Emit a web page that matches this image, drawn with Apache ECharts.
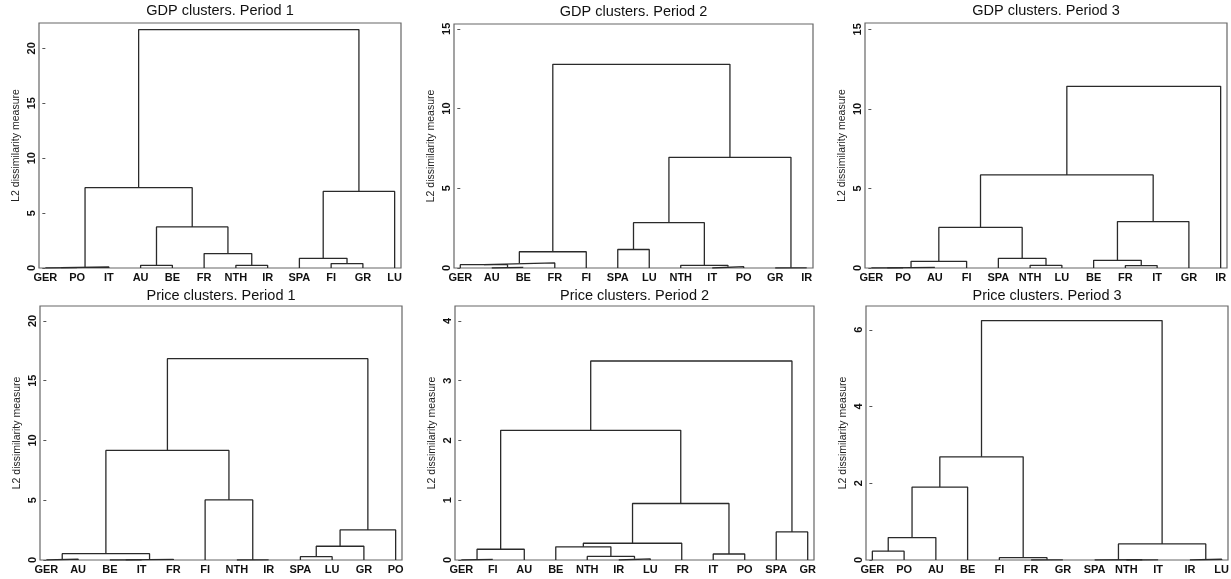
<!DOCTYPE html>
<html>
<head>
<meta charset="utf-8">
<title>GDP and price clusters</title>
<script src="https://cdn.jsdelivr.net/npm/echarts@6.0.0/dist/echarts.min.js"></script>
<style>
  html, body { margin: 0; padding: 0; background: #fff; }
  #chart { width: 1231px; height: 579px; }
</style>
</head>
<body>
<div id="chart"></div>
<script>
// leaves left to right; merges are [a, b, height], ids >= 12 point to earlier merges
const gdp1Leaves = ['GER', 'PO', 'IT', 'AU', 'BE', 'FR', 'NTH', 'IR', 'SPA', 'FI', 'GR', 'LU'];
const gdp1Merges = [
  [0, 1, 0.03], [12, 2, 0.09], [3, 4, 0.24], [6, 7, 0.24], [5, 15, 1.31], [14, 16, 3.74],
  [13, 17, 7.31], [9, 10, 0.40], [8, 19, 0.88], [20, 11, 6.97], [18, 21, 21.7]
];
const gdp1Ticks = [0, 5, 10, 15, 20];

const gdp2Leaves = ['GER', 'AU', 'BE', 'FR', 'FI', 'SPA', 'LU', 'NTH', 'IT', 'PO', 'GR', 'IR'];
const gdp2Merges = [
  [1, 2, 0.04], [0, 12, 0.21], [13, 3, 0.32], [14, 4, 1.02], [5, 6, 1.16], [8, 9, 0.08],
  [7, 17, 0.17], [16, 18, 2.84], [10, 11, 0.01], [19, 20, 6.94], [15, 21, 12.77]
];
const gdp2Ticks = [0, 5, 10, 15];

const gdp3Leaves = ['GER', 'PO', 'AU', 'FI', 'SPA', 'NTH', 'LU', 'BE', 'FR', 'IT', 'GR', 'IR'];
const gdp3Merges = [
  [0, 1, 0.01], [12, 2, 0.04], [13, 3, 0.42], [5, 6, 0.17], [4, 15, 0.61], [14, 16, 2.55],
  [8, 9, 0.15], [7, 18, 0.48], [19, 10, 2.92], [17, 20, 5.85], [21, 11, 11.42]
];
const gdp3Ticks = [0, 5, 10, 15];

const price1Leaves = ['GER', 'AU', 'BE', 'IT', 'FR', 'FI', 'NTH', 'IR', 'SPA', 'LU', 'GR', 'PO'];
const price1Merges = [
  [0, 1, 0.08], [2, 3, 0.01], [13, 4, 0.06], [12, 14, 0.53], [6, 7, 0.01], [5, 16, 5.03],
  [15, 17, 9.17], [8, 9, 0.28], [19, 10, 1.15], [20, 11, 2.52], [18, 21, 16.84]
];
const price1Ticks = [0, 5, 10, 15, 20];

const price2Leaves = ['GER', 'FI', 'AU', 'BE', 'NTH', 'IR', 'LU', 'FR', 'IT', 'PO', 'SPA', 'GR'];
const price2Merges = [
  [0, 1, 0.01], [12, 2, 0.18], [5, 6, 0.02], [4, 14, 0.06], [3, 15, 0.22], [16, 7, 0.28],
  [8, 9, 0.10], [17, 18, 0.945], [13, 19, 2.17], [10, 11, 0.47], [20, 21, 3.33]
];
const price2Ticks = [0, 1, 2, 3, 4];

const price3Leaves = ['GER', 'PO', 'AU', 'BE', 'FI', 'FR', 'GR', 'SPA', 'NTH', 'IT', 'IR', 'LU'];
const price3Merges = [
  [0, 1, 0.23], [12, 2, 0.585], [13, 3, 1.90], [5, 6, 0.005], [4, 15, 0.06], [14, 16, 2.69],
  [8, 9, 0.003], [7, 18, 0.006], [10, 11, 0.02], [19, 20, 0.42], [17, 21, 6.24]
];
const price3Ticks = [0, 2, 4, 6];

const FONT = '"Liberation Sans", Arial, Helvetica, sans-serif';
const LINE = '#2a2a2a';

// box = [left, top, right, bottom] of the plot region in px
const panels = [
  { title: 'GDP clusters. Period 1', leaves: gdp1Leaves, merges: gdp1Merges, ticks: gdp1Ticks, yMax: 22.3, box: [39, 23, 401, 268] },
  { title: 'GDP clusters. Period 2', leaves: gdp2Leaves, merges: gdp2Merges, ticks: gdp2Ticks, yMax: 15.3, box: [454, 24, 813, 268] },
  { title: 'GDP clusters. Period 3', leaves: gdp3Leaves, merges: gdp3Merges, ticks: gdp3Ticks, yMax: 15.4, box: [865, 23, 1227, 268] },
  { title: 'Price clusters. Period 1', leaves: price1Leaves, merges: price1Merges, ticks: price1Ticks, yMax: 21.25, box: [40, 306, 402, 560] },
  { title: 'Price clusters. Period 2', leaves: price2Leaves, merges: price2Merges, ticks: price2Ticks, yMax: 4.25, box: [455, 306, 814, 560] },
  { title: 'Price clusters. Period 3', leaves: price3Leaves, merges: price3Merges, ticks: price3Ticks, yMax: 6.62, box: [866, 306, 1228, 560] }
];

// turn merges into U-shaped links (leaf i sits at x = i)
function buildLinks(leaves, merges) {
  const nodes = leaves.map((_, i) => ({ x: i, h: 0 }));
  const links = [];
  merges.forEach(([a, b, h]) => {
    const A = nodes[a], B = nodes[b];
    links.push([[A.x, A.h], [A.x, h], [B.x, h], [B.x, B.h]]);
    nodes.push({ x: (A.x + B.x) / 2, h: h });
  });
  return links;
}

const option = {
  animation: false,
  backgroundColor: '#fff',
  title: [], grid: [], xAxis: [], yAxis: [], series: []
};

panels.forEach((p, i) => {
  const [l, t, r, b] = p.box;
  option.title.push({
    text: p.title,
    left: (l + r) / 2,
    top: t - (i < 3 ? 20 : 18),
    textAlign: 'center',
    padding: 0,
    textStyle: { fontFamily: FONT, fontSize: 14.5, fontWeight: 'normal', color: '#111' }
  });
  option.grid.push({
    left: l, top: t, width: r - l, height: b - t,
    show: true, borderColor: '#666', borderWidth: 1.2, backgroundColor: 'transparent',
    outerBoundsMode: 'none'
  });
  option.xAxis.push({
    gridIndex: i, type: 'value', min: -0.2, max: p.leaves.length - 0.8,
    splitLine: { show: false }, axisLine: { show: false }, axisTick: { show: false },
    axisLabel: {
      customValues: p.leaves.map((_, k) => k),
      formatter: v => p.leaves[Math.round(v)],
      fontFamily: FONT, fontSize: 11, fontWeight: 'bold', color: '#111', margin: 4
    }
  });
  option.yAxis.push({
    gridIndex: i, type: 'value', min: 0, max: p.yMax,
    name: 'L2 dissimilarity measure', nameLocation: 'middle', nameGap: 17,
    nameTextStyle: { fontFamily: FONT, fontSize: 10.5, color: '#222' },
    splitLine: { show: false }, axisLine: { show: false },
    axisTick: { show: true, inside: false, length: 3, customValues: p.ticks, lineStyle: { color: '#555' } },
    axisLabel: {
      customValues: p.ticks, rotate: 90, margin: 2,
      fontFamily: FONT, fontSize: 11, fontWeight: 'bold', color: '#111'
    }
  });
  buildLinks(p.leaves, p.merges).forEach(link => {
    option.series.push({
      type: 'line', xAxisIndex: i, yAxisIndex: i, data: link,
      symbol: 'none', silent: true,
      lineStyle: { color: LINE, width: 1.3 }
    });
  });
});

const chart = echarts.init(document.getElementById('chart'));
chart.setOption(option);
</script>
</body>
</html>
